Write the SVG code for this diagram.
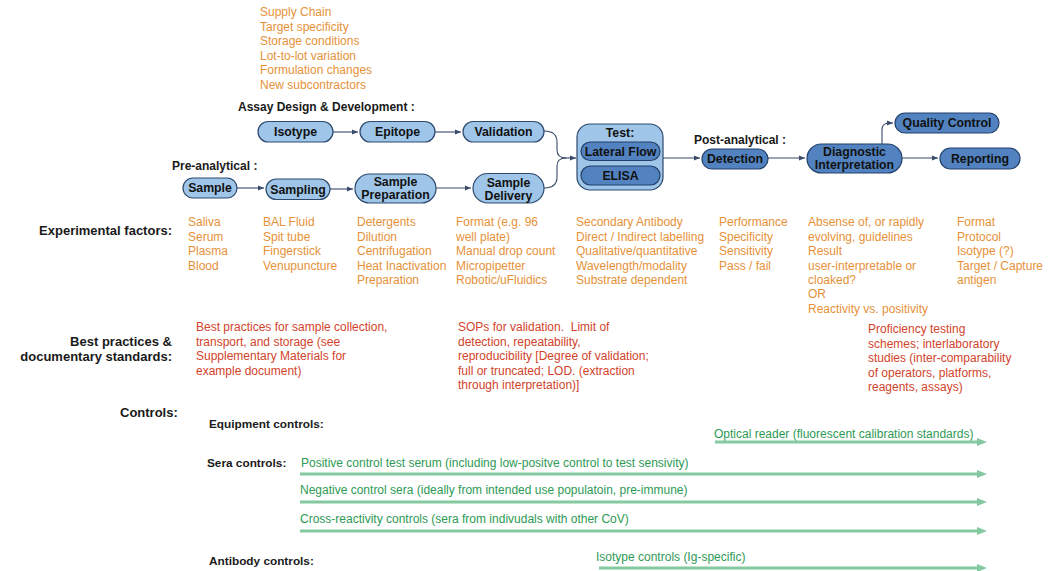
<svg xmlns="http://www.w3.org/2000/svg" width="1056" height="571" viewBox="0 0 1056 571">
<style>
text{font-family:"Liberation Sans",Arial,sans-serif}
.or{fill:#e69138;font-size:12px}
.rd{fill:#d2432b;font-size:12px}
.gr{fill:#2e9a55;font-size:12px}
.hd{fill:#1a1a1a;font-size:13px;font-weight:bold}
.sh{fill:#1a1a1a;font-size:12px;font-weight:bold}
.sub{fill:#1a1a1a;font-size:11.8px;font-weight:bold}
.lt{fill:#9fc5e8;stroke:#2d4a6e;stroke-width:1.2}
.dk{fill:#5283c0;stroke:#22406a;stroke-width:1.2}
.nl{fill:#111;font-size:12.3px;font-weight:bold;text-anchor:middle}
.cn{fill:none;stroke:#3a4a6a;stroke-width:1.1}
.gl{fill:none;stroke:#84c9a0;stroke-width:3}
</style>
<defs>
<marker id="ah" markerUnits="userSpaceOnUse" markerWidth="7" markerHeight="6" refX="6" refY="3" orient="auto"><path d="M0,0.5 L6,3 L0,5.5 Z" fill="#3a4a6a"/></marker>
<marker id="ga" markerUnits="userSpaceOnUse" markerWidth="11" markerHeight="9" refX="1" refY="4.5" orient="auto"><path d="M0,0.5 L10,4.5 L0,8.5 Z" fill="#84c9a0"/></marker>
</defs>

<g id="supply-factors" class="or">
<text x="260" y="16">Supply Chain</text>
<text x="260" y="30.5">Target specificity</text>
<text x="260" y="45">Storage conditions</text>
<text x="260" y="59.5">Lot-to-lot variation</text>
<text x="260" y="74">Formulation changes</text>
<text x="260" y="88.5">New subcontractors</text>
</g>

<text class="sh" x="238" y="111">Assay Design &amp; Development :</text>
<text class="sh" x="172" y="170">Pre-analytical :</text>
<text class="sh" x="694" y="144">Post-analytical :</text>

<g id="connectors">
<path class="cn" d="M333,132 L358,132" marker-end="url(#ah)"/>
<path class="cn" d="M435,132 L461,132" marker-end="url(#ah)"/>
<path class="cn" d="M237,188 L264,188" marker-end="url(#ah)"/>
<path class="cn" d="M330,189 L353,189" marker-end="url(#ah)"/>
<path class="cn" d="M436,188 L471,188" marker-end="url(#ah)"/>
<path class="cn" d="M544,131 Q557,131 557,142 L557,150 Q557,158 566,158"/>
<path class="cn" d="M544,188 Q557,188 557,177 L557,166 Q557,158 566,158"/>
<path class="cn" d="M565,158 L576,158" marker-end="url(#ah)"/>
<path class="cn" d="M663,158 L700,158" marker-end="url(#ah)"/>
<path class="cn" d="M768,158 L805,158" marker-end="url(#ah)"/>
<path class="cn" d="M902,158 L938,158" marker-end="url(#ah)"/>
<path class="cn" d="M882,144 L882,130 Q882,123 889,123 L893,123" marker-end="url(#ah)"/>
</g>

<g id="isotype"><rect class="lt" x="258" y="121.5" width="75" height="20.5" rx="10.25"/><text class="nl" x="295.5" y="136">Isotype</text></g>
<g id="epitope"><rect class="lt" x="360" y="121.5" width="75" height="20.5" rx="10.25"/><text class="nl" x="397.5" y="136">Epitope</text></g>
<g id="validation"><rect class="lt" x="463" y="121.5" width="81" height="20.5" rx="10.25"/><text class="nl" x="503.5" y="136">Validation</text></g>
<g id="sample"><rect class="lt" x="183" y="178" width="54" height="20" rx="10"/><text class="nl" x="210" y="192">Sample</text></g>
<g id="sampling"><rect class="lt" x="266" y="179" width="64" height="20.5" rx="10.25"/><text class="nl" x="298" y="193.5">Sampling</text></g>
<g id="sample-preparation"><rect class="lt" x="355" y="174" width="81" height="29" rx="14.5"/><text class="nl" x="395.5" y="186">Sample</text><text class="nl" x="395.5" y="199">Preparation</text></g>
<g id="sample-delivery"><rect class="lt" x="473" y="173.5" width="71" height="29.5" rx="14.75"/><text class="nl" x="508.5" y="187">Sample</text><text class="nl" x="508.5" y="200">Delivery</text></g>

<g id="test">
<rect class="lt" x="577" y="124" width="86" height="66" rx="13"/>
<text class="nl" x="620" y="137">Test:</text>
<g id="lateral-flow"><rect class="dk" x="581" y="142" width="79" height="18.5" rx="9.25"/><text class="nl" x="620.5" y="155.5">Lateral Flow</text></g>
<g id="elisa"><rect class="dk" x="581" y="166" width="79" height="19" rx="9.5"/><text class="nl" x="620.5" y="180">ELISA</text></g>
</g>

<g id="detection"><rect class="dk" x="702" y="149" width="66" height="20" rx="10"/><text class="nl" x="735" y="163">Detection</text></g>
<g id="diagnostic-interpretation"><rect class="dk" x="807" y="144" width="95" height="29" rx="14.5"/><text class="nl" x="854.5" y="156">Diagnostic</text><text class="nl" x="854.5" y="169">Interpretation</text></g>
<g id="quality-control"><rect class="dk" x="895" y="113" width="104" height="20" rx="10"/><text class="nl" x="947" y="127">Quality Control</text></g>
<g id="reporting"><rect class="dk" x="940" y="148" width="80" height="21" rx="10.5"/><text class="nl" x="980" y="162.5">Reporting</text></g>

<g id="experimental-factors">
<text class="hd" x="172" y="235" text-anchor="end">Experimental factors:</text>
<g class="or">
<text x="188" y="226">Saliva</text><text x="188" y="240.5">Serum</text><text x="188" y="255">Plasma</text><text x="188" y="269.5">Blood</text>
<text x="263" y="226">BAL Fluid</text><text x="263" y="240.5">Spit tube</text><text x="263" y="255">Fingerstick</text><text x="263" y="269.5">Venupuncture</text>
<text x="357" y="226">Detergents</text><text x="357" y="240.5">Dilution</text><text x="357" y="255">Centrifugation</text><text x="357" y="269.5">Heat Inactivation</text><text x="357" y="284">Preparation</text>
<text x="456" y="226">Format (e.g. 96</text><text x="456" y="240.5">well plate)</text><text x="456" y="255">Manual drop count</text><text x="456" y="269.5">Micropipetter</text><text x="456" y="284">Robotic/uFluidics</text>
<text x="576" y="226">Secondary Antibody</text><text x="576" y="240.5">Direct / Indirect labelling</text><text x="576" y="255">Qualitative/quantitative</text><text x="576" y="269.5">Wavelength/modality</text><text x="576" y="284">Substrate dependent</text>
<text x="719" y="226">Performance</text><text x="719" y="240.5">Specificity</text><text x="719" y="255">Sensitivity</text><text x="719" y="269.5">Pass / fail</text>
<text x="808" y="226">Absense of, or rapidly</text><text x="808" y="240.5">evolving, guidelines</text><text x="808" y="255">Result</text><text x="808" y="269.5">user-interpretable or</text><text x="808" y="284">cloaked?</text><text x="808" y="298">OR</text><text x="808" y="312.5">Reactivity vs. positivity</text>
<text x="957" y="226">Format</text><text x="957" y="240.5">Protocol</text><text x="957" y="255">Isotype (?)</text><text x="957" y="269.5">Target / Capture</text><text x="957" y="284">antigen</text>
</g>
</g>

<g id="best-practices">
<text class="hd" x="172" y="345.5" text-anchor="end">Best practices &amp;</text>
<text class="hd" x="172" y="361" text-anchor="end">documentary standards:</text>
<g class="rd">
<text x="196" y="331">Best practices for sample collection,</text><text x="196" y="345.5">transport, and storage (see</text><text x="196" y="360">Supplementary Materials for</text><text x="196" y="374.5">example document)</text>
<text x="458" y="331">SOPs for validation.&#160; Limit of</text><text x="458" y="345.5">detection, repeatability,</text><text x="458" y="360">reproducibility [Degree of validation;</text><text x="458" y="374.5">full or truncated; LOD. (extraction</text><text x="458" y="389">through interpretation)]</text>
<text x="868" y="333">Proficiency testing</text><text x="868" y="347.5">schemes; interlaboratory</text><text x="868" y="362">studies (inter-comparability</text><text x="868" y="376.5">of operators, platforms,</text><text x="868" y="391">reagents, assays)</text>
</g>
</g>

<g id="controls">
<text class="hd" x="120" y="416.5">Controls:</text>
<text class="sub" x="209" y="428">Equipment controls:</text>
<text class="sub" x="207" y="467">Sera controls:</text>
<text class="sub" x="209" y="565">Antibody controls:</text>
<g class="gr">
<text x="714" y="438">Optical reader (fluorescent calibration standards)</text>
<text x="301" y="467">Positive control test serum (including low-positve control to test sensivity)</text>
<text x="300" y="494">Negative control sera (ideally from intended use populatoin, pre-immune)</text>
<text x="300" y="523">Cross-reactivity controls (sera from indivudals with other CoV)</text>
<text x="596" y="561">Isotype controls (Ig-specific)</text>
</g>
<g id="control-arrows">
<path class="gl" d="M715,442 L978,442" marker-end="url(#ga)"/>
<path class="gl" d="M300,474 L978,474" marker-end="url(#ga)"/>
<path class="gl" d="M300,502 L978,502" marker-end="url(#ga)"/>
<path class="gl" d="M300,531 L978,531" marker-end="url(#ga)"/>
<path class="gl" d="M599,568 L978,568" marker-end="url(#ga)"/>
</g>
</g>
</svg>
